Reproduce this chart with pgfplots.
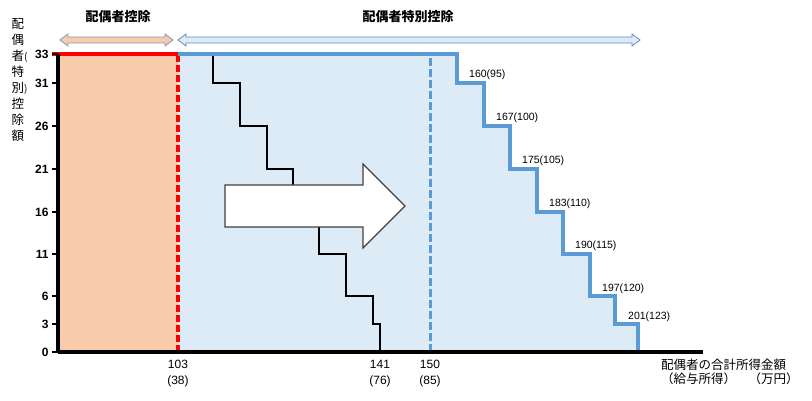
\documentclass[border=0pt]{standalone}
\usepackage{fontspec}
\setmainfont{Liberation Sans}
\newfontfamily\jp{Noto Sans CJK JP}
\usepackage{pgfplots}
\pgfplotsset{compat=1.18}
\definecolor{peach}{HTML}{F8CBAD}
\definecolor{lblue}{HTML}{DDEBF7}
\definecolor{mblue}{HTML}{5B9BD5}
\definecolor{arrblue}{HTML}{6A8BB5}
\definecolor{arrgray}{HTML}{8497B0}
\begin{document}
\begin{tikzpicture}
\begin{axis}[
 scale only axis, width=645bp, height=298bp,
 xmin=0,xmax=645,ymin=0,ymax=298,
 axis x line*=bottom, axis y line*=left,
 axis line style={line width=4bp, black, -},
 axis on top, clip=false,
 ytick={0,28,56,98,140,183,226,269,298},
 yticklabels={0,3,6,11,16,21,26,31,33},
 ytick style={line width=1.5bp, black},
 tick align=outside, major tick length=6bp,
 yticklabel style={font=\fontsize{12bp}{13bp}\selectfont\bfseries},
 xtick={120,322,372},
 xticklabels={{103\\(38)},{141\\(76)},{150\\(85)}},
 xticklabel style={align=center, font=\fontsize{12bp}{16bp}\selectfont, yshift=1bp},
 xtick style={draw=none},
]
% fills
\addplot[fill=peach, draw=none] coordinates {(0,298)(120,298)} \closedcycle;
\addplot[fill=lblue, draw=none] coordinates {(120,298)(399,298)(399,269)(426,269)(426,226)(452,226)(452,183)(479,183)(479,140)(505,140)(505,98)(532,98)(532,56)(557,56)(557,28)(580,28)(580,0)} \closedcycle;
% black step (former scheme)
\addplot[black, line width=1.3bp] coordinates {(155,298)(155,269)(182,269)(182,226)(209,226)(209,183)(235,183)(235,140)(261,140)(261,98)(288,98)(288,56)(315,56)(315,28)(322,28)(322,0)};
% big arrow
\draw[fill=white, draw=black!75, line width=1.2bp] (axis cs:167,125) -- (axis cs:305,125) -- (axis cs:305,104) -- (axis cs:347,146) -- (axis cs:305,188) -- (axis cs:305,167) -- (axis cs:167,167) -- cycle;
% dashed verticals
\addplot[red, line width=3.2bp, dash pattern=on 7bp off 3bp] coordinates {(120,0)(120,298)};
\addplot[mblue, line width=3bp, dash pattern=on 8bp off 3bp] coordinates {(372,0)(372,298)};
% top lines
\addplot[red, line width=4bp] coordinates {(-6,298)(120,298)};
\addplot[mblue, line width=4bp] coordinates {(120,298)(399,298)(399,269)(426,269)(426,226)(452,226)(452,183)(479,183)(479,140)(505,140)(505,98)(532,98)(532,56)(557,56)(557,28)(580,28)(580,0)};
% step labels
\begin{scope}[every node/.style={anchor=base west, inner sep=0pt, font=\fontsize{10.5bp}{12bp}\selectfont}]
\node at (axis cs:411,274) {160(95)};
\node at (axis cs:438,231) {167(100)};
\node at (axis cs:464,188) {175(105)};
\node at (axis cs:491,145) {183(110)};
\node at (axis cs:517,103) {190(115)};
\node at (axis cs:544,61) {197(120)};
\node at (axis cs:570,33) {201(123)};
\end{scope}
% top double arrows
\draw[fill=peach, draw=arrgray, line width=0.8bp] (axis cs:2,312) -- (axis cs:10,318) -- (axis cs:10,315) -- (axis cs:107,315) -- (axis cs:107,318) -- (axis cs:115,312) -- (axis cs:107,306) -- (axis cs:107,309) -- (axis cs:10,309) -- (axis cs:10,306) -- cycle;
\draw[fill=lblue, draw=arrblue, line width=0.8bp] (axis cs:120,312) -- (axis cs:128,318) -- (axis cs:128,315) -- (axis cs:574,315) -- (axis cs:574,318) -- (axis cs:582,312) -- (axis cs:574,306) -- (axis cs:574,309) -- (axis cs:128,309) -- (axis cs:128,306) -- cycle;
\node[font=\jp\bfseries\fontsize{13bp}{13bp}\selectfont] at (axis cs:60,335) {配偶者控除};
\node[font=\jp\bfseries\fontsize{13bp}{13bp}\selectfont] at (axis cs:350,335) {配偶者特別控除};
% y label
\node[anchor=north, align=center, inner sep=0pt, font=\jp\fontsize{12.5bp}{16bp}\selectfont] at (axis cs:-40,334) {配\\偶\\者\rlap{\fontsize{10bp}{10bp}\selectfont(}\\特\\別\rlap{\fontsize{10bp}{10bp}\selectfont)}\\控\\除\\額};
% x label
\node[anchor=north west, align=left, inner sep=0pt, font=\jp\fontsize{12.5bp}{14bp}\selectfont] at (axis cs:603,-7) {配偶者の合計所得金額\\（給与所得）　（万円）};
\coordinate (bl) at (axis cs:-58,-49);
\coordinate (tr) at (axis cs:754,352);
\end{axis}
\pgfresetboundingbox
\path (bl) rectangle (tr);
\end{tikzpicture}
\end{document}
